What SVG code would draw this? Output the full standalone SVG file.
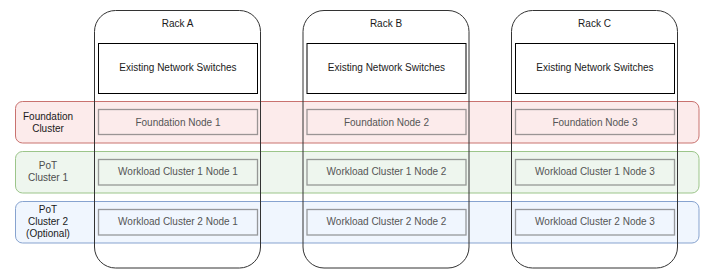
<svg xmlns="http://www.w3.org/2000/svg" width="709" height="280" viewBox="0 0 709 280">
  <style>
    text { font-family: "Liberation Sans", Arial, sans-serif; font-size: 10px; text-anchor: middle; }
    .band { stroke-width: 1; }
    .band-red { fill: #fcebeb; stroke: #c9726f; }
    .band-green { fill: #eef6ee; stroke: #9cc58a; }
    .band-blue { fill: #f0f6fe; stroke: #87a3cf; }
    .band-label { fill: #1a1a1a; }
    .band-label-grey { fill: #4d4d4d; }
    .rack { fill: none; stroke: #333333; stroke-width: 1; }
    .rack-label { fill: #1a1a1a; }
    .switch { fill: #ffffff; stroke: #000000; stroke-width: 1; }
    .switch-label { fill: #1a1a1a; }
    .node-box { fill: none; stroke: #666666; stroke-opacity: 0.65; stroke-width: 1.3; }
    .node-label { fill: #555555; }
  </style>

  <!-- cluster bands -->
  <g id="band-foundation">
    <rect class="band band-red" x="15.5" y="101.5" width="683.5" height="41.5" rx="7" ry="7"/>
    <text class="band-label" x="48" y="119.5">Foundation</text>
    <text class="band-label" x="48" y="131.5">Cluster</text>
  </g>
  <g id="band-pot1">
    <rect class="band band-green" x="15.5" y="151.5" width="683.5" height="41.5" rx="7" ry="7"/>
    <text class="band-label-grey" x="48" y="169">PoT</text>
    <text class="band-label-grey" x="48" y="180.5">Cluster 1</text>
  </g>
  <g id="band-pot2">
    <rect class="band band-blue" x="15.5" y="201.5" width="683.5" height="41.5" rx="7" ry="7"/>
    <text class="band-label" x="48" y="213">PoT</text>
    <text class="band-label" x="48" y="224.5">Cluster 2</text>
    <text class="band-label" x="48" y="236.5">(Optional)</text>
  </g>

  <!-- racks -->
  <g id="rack-a">
    <rect class="rack" x="94.5" y="10.5" width="166" height="257.5" rx="21" ry="21"/>
    <text class="rack-label" x="177.5" y="26.5">Rack A</text>
  </g>
  <g id="rack-b">
    <rect class="rack" x="303" y="10.5" width="166" height="257.5" rx="21" ry="21"/>
    <text class="rack-label" x="386" y="26.5">Rack B</text>
  </g>
  <g id="rack-c">
    <rect class="rack" x="511.5" y="10.5" width="166" height="257.5" rx="21" ry="21"/>
    <text class="rack-label" x="594.5" y="26.5">Rack C</text>
  </g>

  <!-- network switches -->
  <g id="switch-a">
    <rect class="switch" x="98.5" y="43.5" width="159" height="50"/>
    <text class="switch-label" x="178" y="71">Existing Network Switches</text>
  </g>
  <g id="switch-b">
    <rect class="switch" x="307" y="43.5" width="159" height="50"/>
    <text class="switch-label" x="386.5" y="71">Existing Network Switches</text>
  </g>
  <g id="switch-c">
    <rect class="switch" x="515.5" y="43.5" width="159" height="50"/>
    <text class="switch-label" x="595" y="71">Existing Network Switches</text>
  </g>

  <!-- foundation nodes -->
  <g id="foundation-node-1">
    <rect class="node-box" x="98.5" y="109.5" width="159" height="25"/>
    <text class="node-label" x="178" y="125.5">Foundation Node 1</text>
  </g>
  <g id="foundation-node-2">
    <rect class="node-box" x="307" y="109.5" width="159" height="25"/>
    <text class="node-label" x="386.5" y="125.5">Foundation Node 2</text>
  </g>
  <g id="foundation-node-3">
    <rect class="node-box" x="515.5" y="109.5" width="159" height="25"/>
    <text class="node-label" x="595" y="125.5">Foundation Node 3</text>
  </g>

  <!-- workload cluster 1 nodes -->
  <g id="wc1-node-1">
    <rect class="node-box" x="98.5" y="159.5" width="159" height="25.5"/>
    <text class="node-label" x="178" y="175">Workload Cluster 1 Node 1</text>
  </g>
  <g id="wc1-node-2">
    <rect class="node-box" x="307" y="159.5" width="159" height="25.5"/>
    <text class="node-label" x="386.5" y="175">Workload Cluster 1 Node 2</text>
  </g>
  <g id="wc1-node-3">
    <rect class="node-box" x="515.5" y="159.5" width="159" height="25.5"/>
    <text class="node-label" x="595" y="175">Workload Cluster 1 Node 3</text>
  </g>

  <!-- workload cluster 2 nodes -->
  <g id="wc2-node-1">
    <rect class="node-box" x="98.5" y="209.5" width="159" height="25.5"/>
    <text class="node-label" x="178" y="225">Workload Cluster 2 Node 1</text>
  </g>
  <g id="wc2-node-2">
    <rect class="node-box" x="307" y="209.5" width="159" height="25.5"/>
    <text class="node-label" x="386.5" y="225">Workload Cluster 2 Node 2</text>
  </g>
  <g id="wc2-node-3">
    <rect class="node-box" x="515.5" y="209.5" width="159" height="25.5"/>
    <text class="node-label" x="595" y="225">Workload Cluster 2 Node 3</text>
  </g>

  <!-- no connectors in this layout -->
  <g id="connectors"/>
</svg>
